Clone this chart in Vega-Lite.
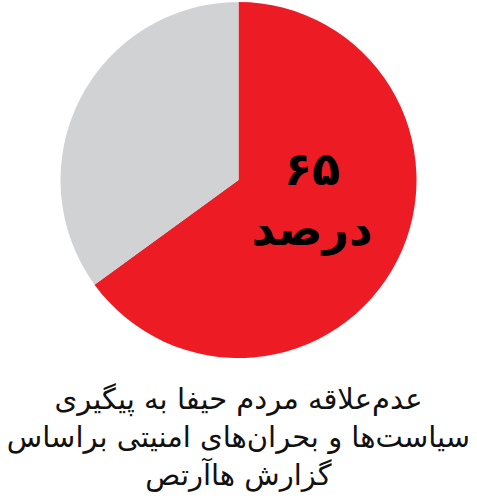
{
  "$schema": "https://vega.github.io/schema/vega-lite/v6.json",
  "width": 477,
  "height": 360,
  "autosize": "none",
  "padding": {"left": 0, "top": 0, "right": 0, "bottom": 143},
  "background": "#ffffff",
  "config": {
    "view": {"stroke": null},
    "title": {
      "font": "DejaVu Sans",
      "fontSize": 29,
      "fontWeight": "normal",
      "color": "#111111",
      "anchor": "middle",
      "orient": "bottom",
      "offset": 26,
      "lineHeight": 38
    }
  },
  "title": {
    "text": [
      "عدم‌علاقه مردم حیفا به پیگیری",
      "سیاست‌ها و بحران‌های امنیتی براساس",
      "گزارش ها‌آرتص"
    ]
  },
  "data": {
    "values": [
      {"part": "بله", "percent": 65, "order": 1, "label": "۶۵\nدرصد"},
      {"part": "خیر", "percent": 35, "order": 2, "label": ""}
    ]
  },
  "encoding": {
    "theta": {"field": "percent", "type": "quantitative", "stack": true},
    "order": {"field": "order", "type": "quantitative"}
  },
  "layer": [
    {
      "mark": {"type": "arc", "outerRadius": 178},
      "encoding": {
        "color": {
          "field": "part",
          "type": "nominal",
          "scale": {"domain": ["بله", "خیر"], "range": ["#ed1c24", "#d1d2d4"]},
          "legend": null
        }
      }
    },
    {
      "mark": {
        "type": "text",
        "radius": 68,
        "dx": 13,
        "dy": -40,
        "font": "DejaVu Sans",
        "fontSize": 46,
        "fontWeight": "bold",
        "color": "#000000",
        "lineBreak": "\n",
        "lineHeight": 60,
        "align": "center",
        "baseline": "middle"
      },
      "encoding": {
        "text": {"field": "label"}
      }
    }
  ]
}
